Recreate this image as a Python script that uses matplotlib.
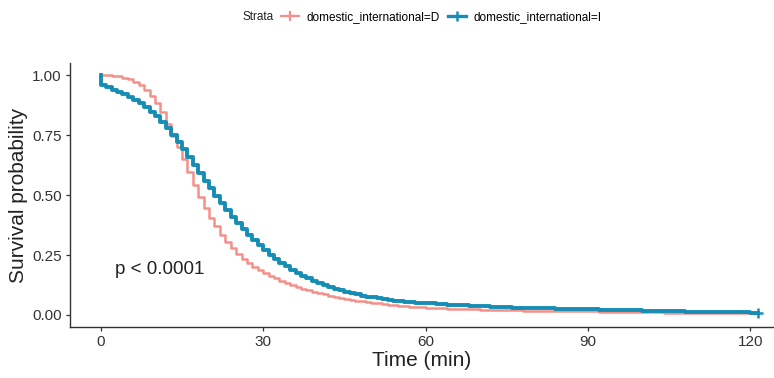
import matplotlib
matplotlib.use("Agg")
import matplotlib.pyplot as plt
from matplotlib.lines import Line2D

plt.rcParams['font.family'] = ['Liberation Sans', 'DejaVu Sans']

# time points (min) where the KM estimate steps
time_min = [0, 1, 2, 3, 4, 5, 6, 7, 8, 9, 10, 11, 12, 13, 14, 15, 16, 17, 18, 19,
            20, 21, 22, 23, 24, 25, 26, 27, 28, 29, 30, 31, 32, 33, 34, 35, 36, 37, 38, 39,
            40, 41, 42, 43, 44, 45, 46, 47, 48, 49, 50, 51, 52, 53, 54, 55, 56, 57, 58, 59,
            60, 62, 64, 66, 68, 70, 72, 74, 76, 78, 80, 84, 88, 92, 96, 100, 104, 108,
            112, 116, 120, 121.5]

# survival, domestic (D)
surv_d = [1.000, 1.000, 0.998, 0.995, 0.990, 0.982, 0.972, 0.958, 0.940, 0.915,
          0.885, 0.845, 0.795, 0.745, 0.700, 0.650, 0.595, 0.540, 0.490, 0.445,
          0.405, 0.370, 0.335, 0.305, 0.280, 0.255, 0.232, 0.215, 0.200, 0.187,
          0.175, 0.164, 0.153, 0.143, 0.134, 0.125, 0.117, 0.110, 0.103, 0.097,
          0.091, 0.086, 0.081, 0.076, 0.072, 0.068, 0.064, 0.060, 0.057, 0.054,
          0.051, 0.048, 0.046, 0.043, 0.041, 0.039, 0.037, 0.035, 0.034, 0.032,
          0.031, 0.029, 0.027, 0.025, 0.024, 0.022, 0.021, 0.020, 0.019, 0.018,
          0.017, 0.016, 0.015, 0.013, 0.012, 0.011, 0.010, 0.010, 0.009, 0.008,
          0.007, 0.007]

# survival, international (I)
surv_i = [0.960, 0.950, 0.940, 0.930, 0.920, 0.910, 0.897, 0.882, 0.866, 0.848,
          0.828, 0.805, 0.780, 0.752, 0.722, 0.690, 0.657, 0.624, 0.592, 0.560,
          0.528, 0.497, 0.467, 0.438, 0.410, 0.383, 0.358, 0.334, 0.311, 0.290,
          0.270, 0.251, 0.234, 0.218, 0.203, 0.189, 0.176, 0.164, 0.153, 0.143,
          0.134, 0.125, 0.117, 0.110, 0.103, 0.097, 0.091, 0.086, 0.081, 0.077,
          0.073, 0.069, 0.066, 0.063, 0.060, 0.058, 0.056, 0.054, 0.052, 0.050,
          0.048, 0.045, 0.042, 0.040, 0.038, 0.036, 0.034, 0.033, 0.031, 0.030,
          0.028, 0.026, 0.024, 0.022, 0.020, 0.018, 0.016, 0.014, 0.013, 0.011,
          0.010, 0.010]

labels = ["domestic_international=D", "domestic_international=I"]
col_d = "#F4908A"
col_i = "#168DB5"

fig = plt.figure(figsize=(7.74, 3.78), dpi=100)
ax = fig.add_axes([0.0904, 0.135, 0.9096, 0.698])

ax.step([0] + time_min, [1.0] + surv_d, where="post", color=col_d, lw=1.8)
ax.step([0] + time_min, [1.0] + surv_i, where="post", color=col_i, lw=2.8)
ax.plot(time_min[-1], surv_i[-1], marker="+", color=col_i, ms=7, mew=1.8)

ax.set_xlim(-5.7, 124.4)
ax.set_ylim(-0.05, 1.05)
ax.set_xticks([0, 30, 60, 90, 120])
ax.set_yticks([0, 0.25, 0.5, 0.75, 1.0])
ax.set_yticklabels(["0.00", "0.25", "0.50", "0.75", "1.00"])
ax.tick_params(labelsize=11, colors="#333333", length=3, width=0.9, pad=3)
for s in ["top", "right"]:
    ax.spines[s].set_visible(False)
for s in ["left", "bottom"]:
    ax.spines[s].set_color("#333333")
    ax.spines[s].set_linewidth(1.0)

ax.set_xlabel("Time (min)", fontsize=15, color="#222222", labelpad=1)
ax.set_ylabel("Survival probability", fontsize=15, color="#222222", labelpad=3)

ax.text(2.6, 0.19, "p < 0.0001", fontsize=13.5, va="center", ha="left", color="#222222")

# legend on top
ly = 1 - 17 / 378
fig.text(242 / 774, ly, "Strata", fontsize=8.5, va="center", ha="left", color="#222222")
handles = [Line2D([], [], color=col_d, lw=1.6, marker="+", ms=7, mew=1.6),
           Line2D([], [], color=col_i, lw=2.4, marker="+", ms=7, mew=1.8)]
fig.legend(handles, labels, loc="center left", bbox_to_anchor=(281 / 774, ly), ncol=2,
           frameon=False, fontsize=8.5, handlelength=1.5, handletextpad=0.65,
           columnspacing=0.7, borderpad=0, borderaxespad=0)

fig.savefig("out.png", dpi=100)
